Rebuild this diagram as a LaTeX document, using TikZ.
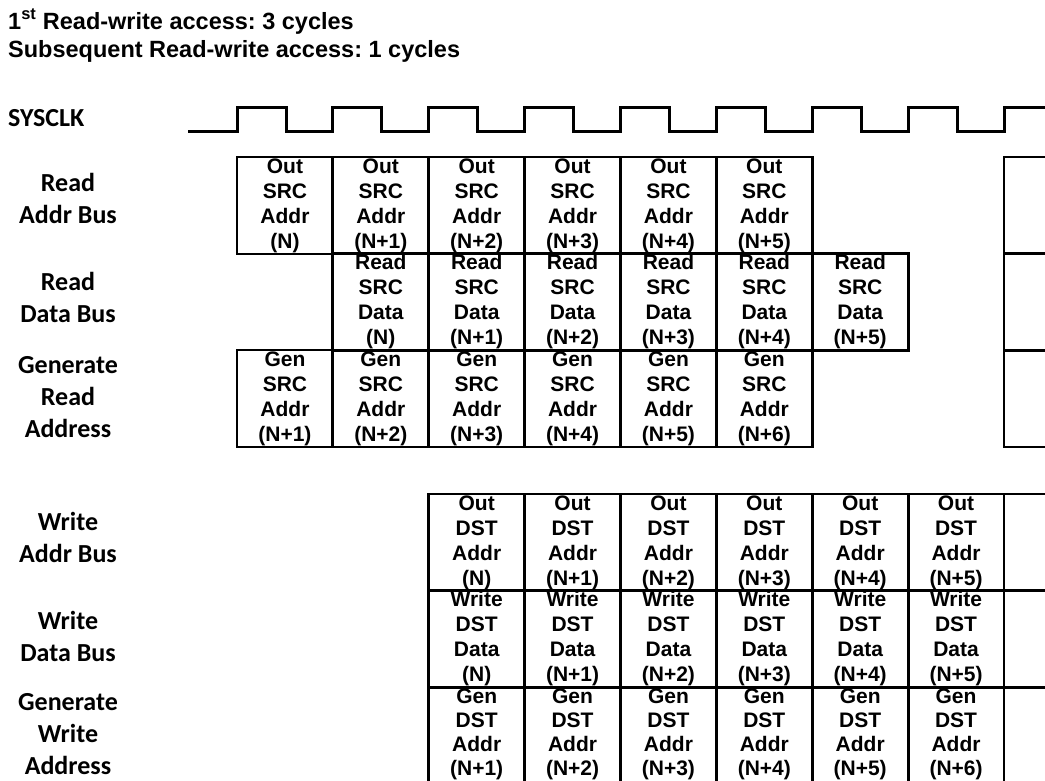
\documentclass[tikz,border=0pt]{standalone}
\usepackage{fontspec}
\setmainfont{Liberation Sans}
\newfontfamily\lblfont{Carlito}
\newcommand\nidx[1]{(N\ifnum#1>0 +#1\fi)}
\frenchspacing

\begin{document}
\begin{tikzpicture}[x=1pt,y=-1pt,
  cell/.style={draw=black,line width=2.8pt,minimum width=95.875pt,minimum height=97pt,
    inner sep=0pt,align=center,font=\fontsize{21}{25}\selectfont\bfseries},
  cellTxt/.style={inner sep=0pt,align=center,font=\fontsize{21}{24}\selectfont\bfseries},
  rowlbl/.style={align=center,inner sep=0pt,font=\lblfont\fontsize{26}{32}\selectfont\bfseries},
  ttl/.style={anchor=base west,inner sep=0pt,font=\fontsize{23.5}{27}\selectfont\bfseries},
  clk/.style={draw=black,line width=3pt,line join=miter}]
  \useasboundingbox (0,0) rectangle (1045,780);
  \clip (0,0) rectangle (1045,780);

  \node[ttl] (ttlA) at (8,29) {1\textsuperscript{st} Read-write access: 3 cycles};
  \node[ttl] (ttlB) at (8,57) {Subsequent Read-write access: 1 cycles};

  % row labels
  \node[rowlbl,anchor=west] (sysclk) at (8,118.5) {SYSCLK};
  \node[rowlbl] (rdAddr) at (68,198) {Read\\Addr Bus};
  \node[rowlbl] (rdData) at (68,297) {Read\\Data Bus};
  \node[rowlbl] (rdGen) at (68,397.5) {Generate\\Read\\Address};
  \node[rowlbl] (wrAddr) at (68,537) {Write\\Addr Bus};
  \node[rowlbl] (wrData) at (68,636) {Write\\Data Bus};
  \node[rowlbl] (wrGen) at (68,734) {Generate\\Write\\Address};

  % clock
  \draw[clk] (188,131) foreach \i in {0,...,8} {
    -- ({237+95.875*\i},131) -- ({237+95.875*\i},107)
    -- ({286+95.875*\i},107) -- ({286+95.875*\i},131) };

  % read side
  \foreach \k in {0,...,5} {
    \pgfmathsetmacro\cx{284.94+95.875*\k}
    \pgfmathtruncatemacro\kk{\k+1}
    \node[cell] (ra\k) at (\cx,205.5) {Out\\SRC\\Addr\\\nidx{\k}};
    \node[cell] (rd\k) at (\cx+95.875,302) {Read\\SRC\\Data\\\nidx{\k}};
    \node[cell] (rg\k) at (\cx,398.5) {Gen\\SRC\\Addr\\\nidx{\kk}};
  }
  \node[cell] (raEnd) at (1051.94,205.5) {};
  \node[cell] (rdEnd) at (1051.94,302) {};
  \node[cell] (rgEnd) at (1051.94,398.5) {};

  % write side
  \foreach \k in {0,...,5} {
    \pgfmathsetmacro\cx{476.69+95.875*\k}
    \pgfmathtruncatemacro\kk{\k+1}
    \node[cell] (wa\k) at (\cx,542.5) {Out\\DST\\Addr\\\nidx{\k}};
    \node[cell] (wd\k) at (\cx,639) {Write\\DST\\Data\\\nidx{\k}};
    \node[cell,minimum height=100pt] (wg\k) at (\cx,737) {};
    \node[cellTxt] (wgTxt\k) at (\cx,734) {Gen\\DST\\Addr\\\nidx{\kk}};
  }
  \node[cell] (waEnd) at (1051.94,542.5) {};
  \node[cell] (wdEnd) at (1051.94,639) {};
  \node[cell,minimum height=100pt] (wgEnd) at (1051.94,737) {};
\end{tikzpicture}
\end{document}
